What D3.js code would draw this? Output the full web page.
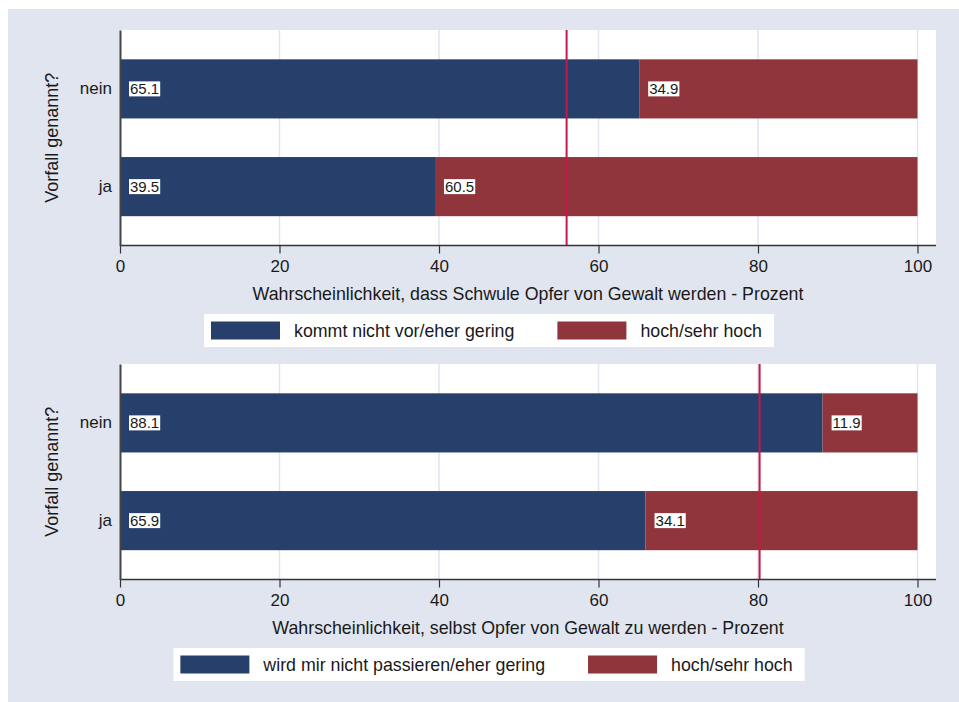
<!DOCTYPE html>
<html>
<head>
<meta charset="utf-8">
<script src="https://cdn.jsdelivr.net/npm/d3@7"></script>
<style>
  body { margin: 0; background: #fff; }
  text { font-family: "Liberation Sans", Arial, sans-serif; fill: #1a1a1a; }
</style>
</head>
<body>
<div id="chart"></div>
<script>
// data
var categories = ["nein", "ja"];
var gering1 = [65.1, 39.5];
var hoch1 = [34.9, 60.5];
var gering2 = [88.1, 65.9];
var hoch2 = [11.9, 34.1];
var refLines = [56, 80.2];
var xTicks = [0, 20, 40, 60, 80, 100];
var xTitles = ["Wahrscheinlichkeit, dass Schwule Opfer von Gewalt werden - Prozent",
               "Wahrscheinlichkeit, selbst Opfer von Gewalt zu werden - Prozent"];
var legend1 = ["kommt nicht vor/eher gering", "hoch/sehr hoch"];
var legend2 = ["wird mir nicht passieren/eher gering", "hoch/sehr hoch"];
var yTitle = "Vorfall genannt?";

var width = 959, height = 702;
var navy = "#273f6b", maroon = "#8f353b", bg = "#e0e5ef";

var svg = d3.select("#chart").append("svg")
    .attr("width", width)
    .attr("height", height);

svg.append("rect")
    .attr("x", 8).attr("y", 9)
    .attr("width", width - 8).attr("height", height - 9)
    .attr("fill", bg);

var x = d3.scaleLinear().domain([0, 100]).range([120, 917.5]);

function drawPanel(top, gering, hoch, refVal, xTitle, legLabels) {
  var plotBottom = top + 215.5;
  var g = svg.append("g");

  var y = d3.scaleBand()
      .domain(categories)
      .range([top, plotBottom])
      .paddingInner(0.395)
      .paddingOuter(0.3);

  // white plot area
  g.append("rect")
      .attr("x", 120).attr("y", top)
      .attr("width", 936 - 120).attr("height", plotBottom - top)
      .attr("fill", "#fff");

  // grid
  g.selectAll(".grid").data(xTicks.slice(1)).enter().append("line")
      .attr("x1", function(d) { return x(d); })
      .attr("x2", function(d) { return x(d); })
      .attr("y1", top).attr("y2", plotBottom)
      .attr("stroke", "#dfe4f0").attr("stroke-width", 1.5);

  var rows = categories.map(function(c, i) {
    return { cat: c, gering: gering[i], hoch: hoch[i] };
  });

  // bars
  g.selectAll(".bg").data(rows).enter().append("rect")
      .attr("x", x(0))
      .attr("y", function(d) { return y(d.cat); })
      .attr("width", function(d) { return x(d.gering) - x(0); })
      .attr("height", y.bandwidth())
      .attr("fill", navy);
  g.selectAll(".bh").data(rows).enter().append("rect")
      .attr("x", function(d) { return x(d.gering); })
      .attr("y", function(d) { return y(d.cat); })
      .attr("width", function(d) { return x(d.gering + d.hoch) - x(d.gering); })
      .attr("height", y.bandwidth())
      .attr("fill", maroon);

  // reference line
  g.append("line")
      .attr("x1", x(refVal)).attr("x2", x(refVal))
      .attr("y1", top).attr("y2", plotBottom)
      .attr("stroke", "#c8174a").attr("stroke-width", 2);

  // value labels
  var labs = [];
  rows.forEach(function(d) {
    labs.push({ v: d.gering, x0: 0, cat: d.cat });
    labs.push({ v: d.hoch, x0: d.gering, cat: d.cat });
  });
  labs.forEach(function(d) {
    var lg = g.append("g");
    var t = lg.append("text")
        .attr("x", x(d.x0) + 10)
        .attr("y", y(d.cat) + y.bandwidth() / 2)
        .attr("dy", "0.36em")
        .attr("font-size", 15)
        .text(d3.format(".1f")(d.v));
    var bb = t.node().getBBox();
    lg.insert("rect", "text")
        .attr("x", bb.x - 1).attr("y", y(d.cat) + y.bandwidth() / 2 - 7.5)
        .attr("width", bb.width + 2).attr("height", 15)
        .attr("fill", "#fff");
  });

  // x axis
  var xa = g.append("g")
      .attr("transform", "translate(0," + plotBottom + ")")
      .call(d3.axisBottom(x).tickValues(xTicks).tickSize(8).tickPadding(6));
  xa.select(".domain").attr("d", "M120,0H936").attr("stroke", "#333").attr("stroke-width", 1.5);
  xa.selectAll(".tick line").attr("stroke", "#333").attr("stroke-width", 1.2);
  xa.selectAll(".tick text").attr("font-size", 17)
      .attr("font-family", "Liberation Sans, Arial, sans-serif").attr("fill", "#1a1a1a");

  // y axis
  var ya = g.append("g")
      .attr("transform", "translate(120,0)")
      .call(d3.axisLeft(y).tickSize(0).tickPadding(8));
  ya.select(".domain").attr("stroke", "#444").attr("stroke-width", 2);
  ya.selectAll(".tick text").attr("font-size", 17)
      .attr("font-family", "Liberation Sans, Arial, sans-serif").attr("fill", "#1a1a1a");

  // axis titles
  g.append("text")
      .attr("x", (120 + 936) / 2).attr("y", plotBottom + 54.5)
      .attr("text-anchor", "middle").attr("font-size", 17.8)
      .text(xTitle);
  g.append("text")
      .attr("transform", "translate(58," + (top + plotBottom) / 2 + ") rotate(-90)")
      .attr("text-anchor", "middle").attr("font-size", 18)
      .text(yTitle);

  // legend
  var cy = plotBottom + 85;
  var leg = g.append("g");
  var box = leg.append("rect").attr("fill", "#fff");
  var sw = 69, gap = 14, colGap = 43;
  var tmp = legLabels.map(function(l) {
    var t = leg.append("text").attr("font-size", 17.8).text(l);
    var w = t.node().getComputedTextLength();
    t.remove();
    return w;
  });
  var colW = sw + gap + d3.max(tmp) + colGap;
  var total = 7 + colW + sw + gap + tmp[1] + 12;
  var left = 489 - total / 2;
  box.attr("x", left).attr("y", cy - 16.5).attr("width", total).attr("height", 33);
  legLabels.forEach(function(l, i) {
    var sx = left + 7 + i * colW;
    leg.append("rect")
        .attr("x", sx).attr("y", cy - 9)
        .attr("width", sw).attr("height", 18)
        .attr("fill", i === 0 ? navy : maroon);
    leg.append("text")
        .attr("x", sx + sw + gap).attr("y", cy)
        .attr("dy", "0.36em").attr("font-size", 17.8)
        .text(l);
  });
}

drawPanel(30, gering1, hoch1, refLines[0], xTitles[0], legend1);
drawPanel(364, gering2, hoch2, refLines[1], xTitles[1], legend2);
</script>
</body>
</html>
